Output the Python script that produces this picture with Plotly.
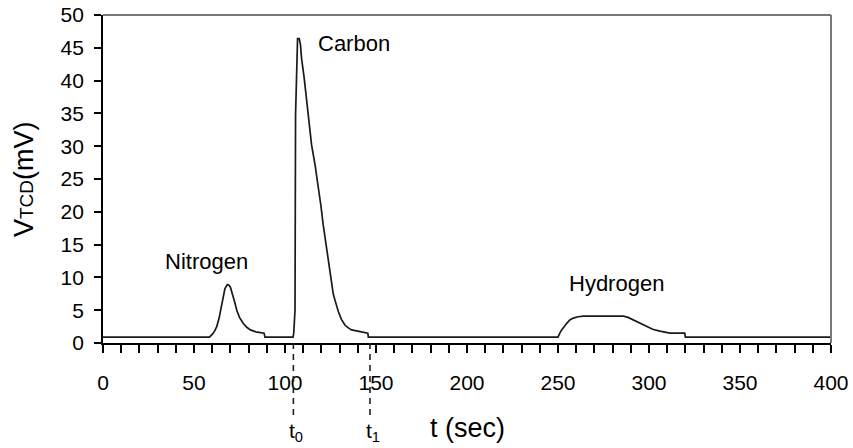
import plotly.graph_objects as go

# ---- data ----
t_sec = [0, 58.5, 60, 61.3, 62.5, 63.8, 65, 66, 67, 68.3, 69.2, 70, 71.5, 72.5, 73.5, 75, 77,
         79, 81, 84, 88.5, 89,
         104.4, 104.8, 105.5, 105.8, 106.9, 107.8, 108.5, 109.1, 110.5, 112, 113.3, 114.6,
         116.5, 118.3, 119.7, 121, 122, 123, 124.3, 125.6, 126.5, 127.5, 128.4, 129.3,
         131, 133, 134.8, 136.6, 140, 143.5, 145.5, 145.8,
         250, 251, 252, 254.8, 256.5, 258.4, 261, 264, 286, 288.5, 291.4, 295, 298.7, 302,
         306, 311.5, 319.6, 320, 400]
v_tcd = [0.9, 0.9, 1.3, 1.8, 2.5, 3.8, 5.5, 7.0, 8.3, 8.9, 8.8, 8.5, 7.2, 6.1, 5.0, 3.9, 3.0,
         2.4, 2.0, 1.7, 1.5, 0.9,
         0.9, 1.5, 5.0, 34.8, 46.4, 46.4, 45.5, 43.4, 40.5, 36.8, 33.5, 30.2,
         27.2, 24.1, 21.0, 18.0, 16.0, 13.9, 11.2, 8.8, 7.5, 6.5, 5.6, 4.8,
         3.6, 2.7, 2.3, 2.0, 1.8, 1.6, 1.5, 0.9,
         0.9, 1.5, 2.0, 3.0, 3.5, 3.8, 4.0, 4.1, 4.1, 3.9, 3.5, 3.0, 2.5, 2.1,
         1.8, 1.5, 1.5, 0.9, 0.9]

peak_names = ["Nitrogen", "Carbon", "Hydrogen"]
peak_label_t = [57.1, 137.7, 282.4]
peak_label_v = [12.5, 45.6, 9.0]

marker_names = ["t<sub>0</sub>", "t<sub>1</sub>"]
marker_t = [104.6, 146.7]

x_range = [0, 400]
y_range = [0, 50]

FONT = "Arial, 'Liberation Sans', sans-serif"

fig = go.Figure()
fig.add_trace(go.Scatter(x=t_sec, y=v_tcd, mode="lines",
                         line=dict(color="#1a1a1a", width=1.7),
                         showlegend=False, hoverinfo="skip"))

annotations = []
for name, tx, vy in zip(peak_names, peak_label_t, peak_label_v):
    annotations.append(dict(x=tx, y=vy, xref="x", yref="y", text=name, showarrow=False,
                            xanchor="center", yanchor="middle",
                            font=dict(family=FONT, size=22, color="black")))

shapes = []
for name, tx in zip(marker_names, marker_t):
    shapes.append(dict(type="line", xref="x", yref="paper", x0=tx, x1=tx, y0=0, y1=-0.229,
                       line=dict(color="#222", width=1.6, dash="6px,5px"), layer="above"))
    annotations.append(dict(x=tx, y=-0.272, xref="x", yref="paper", text=name,
                            showarrow=False, xanchor="center", yanchor="middle", xshift=3,
                            font=dict(family=FONT, size=21, color="black")))

# grey frame (top and right)
shapes.append(dict(type="line", xref="paper", yref="paper", x0=0, x1=1, y0=1, y1=1,
                   line=dict(color="#777", width=2)))
shapes.append(dict(type="line", xref="paper", yref="paper", x0=1, x1=1, y0=0, y1=1,
                   line=dict(color="#777", width=2)))

# axis titles
annotations.append(dict(x=0.5, y=-0.259, xref="paper", yref="paper", text="t (sec)",
                        showarrow=False, xanchor="center", yanchor="middle",
                        font=dict(family=FONT, size=27, color="black")))
annotations.append(dict(x=0, y=0.5, xref="paper", yref="paper",
                        text="V<span style='font-size:19px'>TCD</span>(mV)",
                        textangle=-90, showarrow=False, xanchor="center", yanchor="middle",
                        xshift=-79, font=dict(family=FONT, size=27, color="black")))

fig.update_layout(
    width=853, height=448,
    margin=dict(l=103, r=22, t=15, b=105, autoexpand=False),
    paper_bgcolor="white", plot_bgcolor="white",
    font=dict(family=FONT, size=21, color="black"),
    shapes=shapes, annotations=annotations,
    xaxis=dict(range=x_range, tick0=0, dtick=50, ticks="outside", ticklen=8, tickwidth=1.5,
               tickcolor="black", showline=True, linecolor="black", linewidth=1.8,
               showgrid=False, zeroline=False, ticklabelstandoff=12, automargin=False,
               tickfont=dict(family=FONT, size=21, color="black"),
               minor=dict(dtick=10, ticks="outside", ticklen=8, tickwidth=1.5,
                          tickcolor="black", showgrid=False)),
    yaxis=dict(range=y_range, tick0=0, dtick=5, ticks="outside", ticklen=7, tickwidth=1.5,
               tickcolor="black", showline=True, linecolor="black", linewidth=1.8,
               showgrid=False, zeroline=False, ticklabelstandoff=6, automargin=False,
               tickfont=dict(family=FONT, size=21, color="black")),
)

fig.write_html("out.html")
